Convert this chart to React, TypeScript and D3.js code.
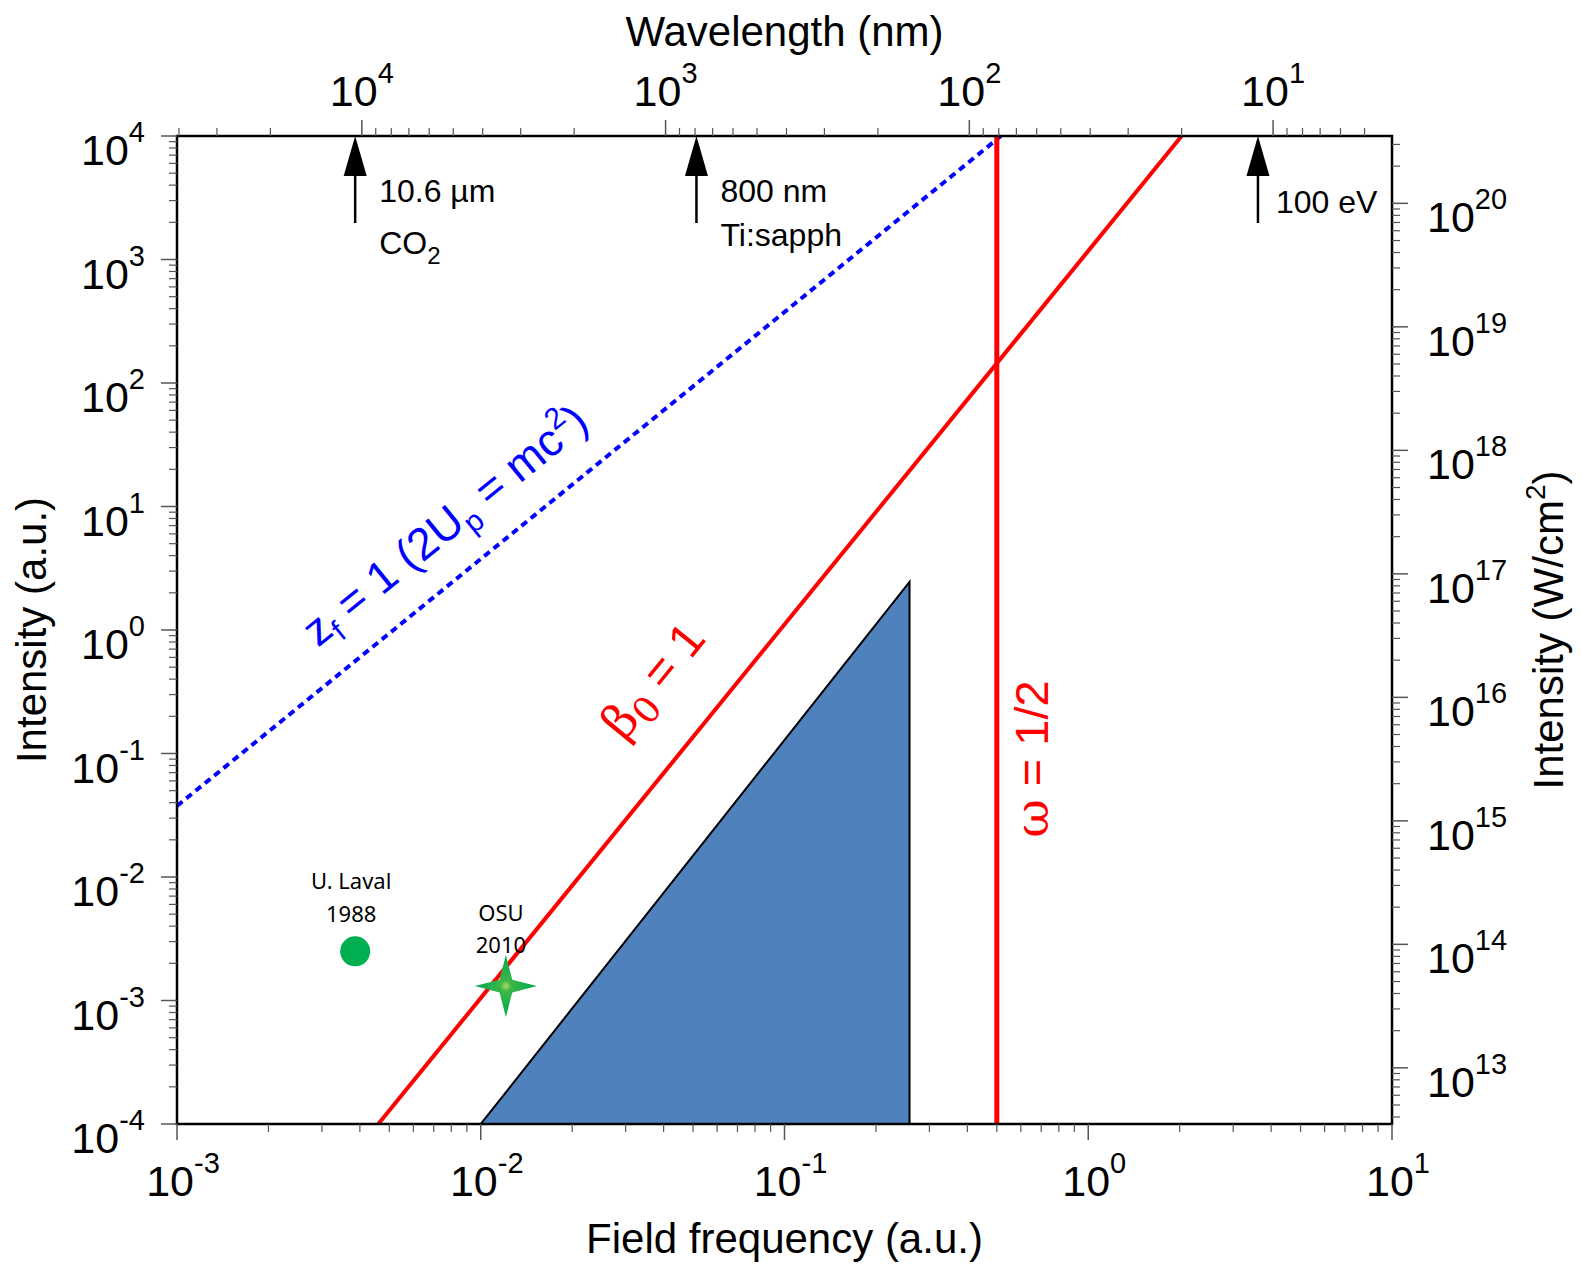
import React from 'react';
import * as d3 from 'd3';

// axis domains (atomic units)
const freqDomain = [1e-3, 10];
const intensityDomain = [1e-4, 1e4];
const auToWcm2 = 3.51e16; // right axis conversion
const lambdaOmega = 40.6; // nm * a.u., as laid out on the top axis

const bottomTicks = [1e-3, 1e-2, 1e-1, 1, 10];
const leftTicks = [1e-4, 1e-3, 1e-2, 1e-1, 1, 10, 100, 1e3, 1e4];
const rightTicks = [1e13, 1e14, 1e15, 1e16, 1e17, 1e18, 1e19, 1e20];
const topTicks = [1e4, 1e3, 1e2, 10];

// lines: [frequency, intensity]
const zfLine = [[1e-3, 0.0376], [0.516, 1e4]];
const betaLine = [[0.0046, 1e-4], [2.03, 1e4]];
const omegaHalf = 0.5;
const triangle = [[0.01, 1e-4], [0.258, 1e-4], [0.258, 2.45]];

// arrows on top axis
const arrowFreqs = [0.00386, 0.0513, 3.62];
const arrowLabels = [['10.6 \u00b5m', 'CO'], ['800 nm', 'Ti:sapph'], ['100 eV', '']];

// experiments
const lavalPoint = [0.00386, 2.5e-3];
const osuPoint = [0.0121, 1.31e-3];

const font = 'Liberation Sans, Arial, sans-serif';
const serif = 'DejaVu Serif, Liberation Serif, serif';
const smallFont = 'Noto Sans, sans-serif';

const W = 1581, H = 1271;
const m = { left: 177, right: 1392, top: 136, bottom: 1124 };

function exp10(v: number) {
  return Math.round(Math.log10(v));
}

function minorTicks(lo: number, hi: number) {
  const out: number[] = [];
  for (let e = Math.floor(Math.log10(lo)); e <= Math.ceil(Math.log10(hi)); e++) {
    for (let k = 2; k <= 9; k++) {
      const v = k * Math.pow(10, e);
      if (v > lo && v < hi) out.push(v);
    }
  }
  return out;
}

function Pow({ x, y, exp, anchor }: any) {
  return (
    <text x={x} y={y} textAnchor={anchor} fontFamily={font} fontSize={43} fill="#000">
      <tspan>10</tspan>
      <tspan dy={-23} fontSize={29}>{String(exp)}</tspan>
    </text>
  );
}

export default function App() {
  const x = d3.scaleLog().domain(freqDomain).range([m.left, m.right]);
  const y = d3.scaleLog().domain(intensityDomain).range([m.bottom, m.top]);
  const yR = d3.scaleLog()
    .domain([intensityDomain[0] * auToWcm2, intensityDomain[1] * auToWcm2])
    .range([m.bottom, m.top]);
  const xT = d3.scaleLog()
    .domain([lambdaOmega / freqDomain[0], lambdaOmega / freqDomain[1]])
    .range([m.left, m.right]);

  const line = d3.line<number[]>().x(d => x(d[0])).y(d => y(d[1]));

  const angle = (pts: number[][]) =>
    (Math.atan2(y(pts[1][1]) - y(pts[0][1]), x(pts[1][0]) - x(pts[0][0])) * 180) / Math.PI;
  const zfAngle = angle(zfLine);
  const betaAngle = angle(betaLine);

  const tickCol = '#555';
  const major = 16, minor = 8;

  // four-point star
  const star = (cx: number, cy: number, R: number, r: number) => {
    const pts: string[] = [];
    for (let i = 0; i < 8; i++) {
      const a = (i * Math.PI) / 4 - Math.PI / 2;
      const rad = i % 2 === 0 ? R : r;
      pts.push(`${cx + rad * Math.cos(a)},${cy + rad * Math.sin(a)}`);
    }
    return `M${pts.join('L')}Z`;
  };

  return (
    <svg width={W} height={H} style={{ position: 'absolute', left: 0, top: 0, background: '#fff' }}>
      <defs>
        <radialGradient id="starGrad">
          <stop offset="0%" stopColor="#b6dd5a" />
          <stop offset="18%" stopColor="#3cb54a" />
          <stop offset="100%" stopColor="#00a84f" />
        </radialGradient>
      </defs>

      {/* blue triangle */}
      <path
        d={line(triangle as any) + 'Z'}
        fill="#4f81bd"
        stroke="#000"
        strokeWidth={2}
        strokeLinejoin="miter"
      />

      {/* z_f line */}
      <path d={line(zfLine as any) || ''} stroke="#0000ff" strokeWidth={4} strokeDasharray="7,5" fill="none" />

      {/* beta line */}
      <path d={line(betaLine as any) || ''} stroke="#ff0000" strokeWidth={4} fill="none" />

      {/* omega = 1/2 */}
      <line x1={x(omegaHalf)} x2={x(omegaHalf)} y1={m.top} y2={m.bottom} stroke="#ff0000" strokeWidth={5} />

      {/* frame */}
      <rect x={m.left} y={m.top} width={m.right - m.left} height={m.bottom - m.top} fill="none" stroke="#000" strokeWidth={2.5} />

      {/* bottom axis ticks */}
      {bottomTicks.map(v => (
        <g key={'b' + v}>
          <line x1={x(v)} x2={x(v)} y1={m.bottom} y2={m.bottom + major} stroke={tickCol} strokeWidth={1.5} />
          <Pow x={x(v) + 6} y={m.bottom + 72} exp={exp10(v)} anchor="middle" />
        </g>
      ))}
      {minorTicks(freqDomain[0], freqDomain[1]).map(v => (
        <line key={'bm' + v} x1={x(v)} x2={x(v)} y1={m.bottom} y2={m.bottom + minor} stroke={tickCol} strokeWidth={1.2} />
      ))}

      {/* top axis (wavelength) */}
      {topTicks.map(v => (
        <g key={'t' + v}>
          <line x1={xT(v)} x2={xT(v)} y1={m.top} y2={m.top - major} stroke={tickCol} strokeWidth={1.5} />
          <Pow x={xT(v)} y={106} exp={exp10(v)} anchor="middle" />
        </g>
      ))}
      {minorTicks(lambdaOmega / freqDomain[1], lambdaOmega / freqDomain[0]).map(v => (
        <line key={'tm' + v} x1={xT(v)} x2={xT(v)} y1={m.top} y2={m.top - minor} stroke={tickCol} strokeWidth={1.2} />
      ))}

      {/* left axis */}
      {leftTicks.map(v => (
        <g key={'l' + v}>
          <line x1={m.left - major} x2={m.left} y1={y(v)} y2={y(v)} stroke={tickCol} strokeWidth={1.5} />
          <Pow x={145} y={y(v) + 29} exp={exp10(v)} anchor="end" />
        </g>
      ))}
      {minorTicks(intensityDomain[0], intensityDomain[1]).map(v => (
        <line key={'lm' + v} x1={m.left - minor} x2={m.left} y1={y(v)} y2={y(v)} stroke={tickCol} strokeWidth={1.2} />
      ))}

      {/* right axis */}
      {rightTicks.map(v => (
        <g key={'r' + v}>
          <line x1={m.right} x2={m.right + major} y1={yR(v)} y2={yR(v)} stroke={tickCol} strokeWidth={1.5} />
          <Pow x={1427} y={yR(v) + 29} exp={exp10(v)} anchor="start" />
        </g>
      ))}
      {minorTicks(intensityDomain[0] * auToWcm2, intensityDomain[1] * auToWcm2).map(v => (
        <line key={'rm' + v} x1={m.right} x2={m.right + minor} y1={yR(v)} y2={yR(v)} stroke={tickCol} strokeWidth={1.2} />
      ))}

      {/* axis titles */}
      <text x={(m.left + m.right) / 2} y={46} textAnchor="middle" fontFamily={font} fontSize={42}>Wavelength (nm)</text>
      <text x={(m.left + m.right) / 2} y={1253} textAnchor="middle" fontFamily={font} fontSize={42}>Field frequency (a.u.)</text>
      <text transform={`translate(46,${(m.top + m.bottom) / 2}) rotate(-90)`} textAnchor="middle" fontFamily={font} fontSize={42}>
        Intensity (a.u.)
      </text>
      <text transform={`translate(1563,${(m.top + m.bottom) / 2}) rotate(-90)`} textAnchor="middle" fontFamily={font} fontSize={42}>
        Intensity (W/cm<tspan dy={-18} fontSize={28}>2</tspan><tspan dy={18}>)</tspan>
      </text>

      {/* arrows */}
      {arrowFreqs.map((f, i) => {
        const ax = x(f);
        return (
          <g key={'a' + i}>
            <path d={`M${ax},${m.top}L${ax - 11.5},${m.top + 40}L${ax + 11.5},${m.top + 40}Z`} fill="#000" />
            <line x1={ax} x2={ax} y1={m.top + 38} y2={m.top + 87} stroke="#000" strokeWidth={2.5} />
            <text x={ax + (i === 2 ? 18 : 24)} y={i === 2 ? 213 : 202} fontFamily={font} fontSize={32}>
              {arrowLabels[i][0]}
            </text>
            {arrowLabels[i][1] && (
              <text x={ax + 24} y={i === 0 ? 254 : 246} fontFamily={font} fontSize={32}>
                {arrowLabels[i][1]}
                {i === 0 && <tspan dy={10} fontSize={24}>2</tspan>}
              </text>
            )}
          </g>
        );
      })}

      {/* rotated line labels */}
      <text
        transform={`translate(318,648) rotate(${zfAngle})`}
        fontFamily={font}
        fontSize={45}
        fill="#0000ff"
      >
        z<tspan dy={10} fontSize={30}>f</tspan>
        <tspan dy={-10}> = 1 (2U</tspan>
        <tspan dy={10} fontSize={30}>p</tspan>
        <tspan dy={-10}> = mc</tspan>
        <tspan dy={-19} fontSize={30}>2</tspan>
        <tspan dy={19}>)</tspan>
      </text>
      <text
        transform={`translate(624,742) rotate(${betaAngle})`}
        fontFamily={font}
        fontSize={48}
        fill="#ff0000"
      >
        <tspan fontFamily={serif}>{'\u03b2'}</tspan>
        <tspan dy={10} fontSize={36} fontFamily={serif}>0</tspan>
        <tspan dy={-10}>{' = 1'}</tspan>
      </text>
      <text
        transform={`translate(1048,759) rotate(-90)`}
        textAnchor="middle"
        fontFamily={font}
        fontSize={47}
        fill="#ff0000"
      >
        <tspan fontFamily={serif}>{'\u03c9'}</tspan>
        <tspan>{' = 1/2'}</tspan>
      </text>

      {/* U. Laval 1988 */}
      <circle cx={x(lavalPoint[0])} cy={y(lavalPoint[1])} r={15} fill="#00b050" />
      <text x={x(lavalPoint[0]) - 4} y={889} textAnchor="middle" fontFamily={smallFont} fontSize={22}>U. Laval</text>
      <text x={x(lavalPoint[0]) - 4} y={922} textAnchor="middle" fontFamily={smallFont} fontSize={22}>1988</text>

      {/* OSU 2010 */}
      <path d={star(x(osuPoint[0]), y(osuPoint[1]), 31, 9)} fill="url(#starGrad)" />
      <text x={x(osuPoint[0]) - 5} y={921} textAnchor="middle" fontFamily={smallFont} fontSize={22}>OSU</text>
      <text x={x(osuPoint[0]) - 5} y={953} textAnchor="middle" fontFamily={smallFont} fontSize={22}>2010</text>
    </svg>
  );
}
